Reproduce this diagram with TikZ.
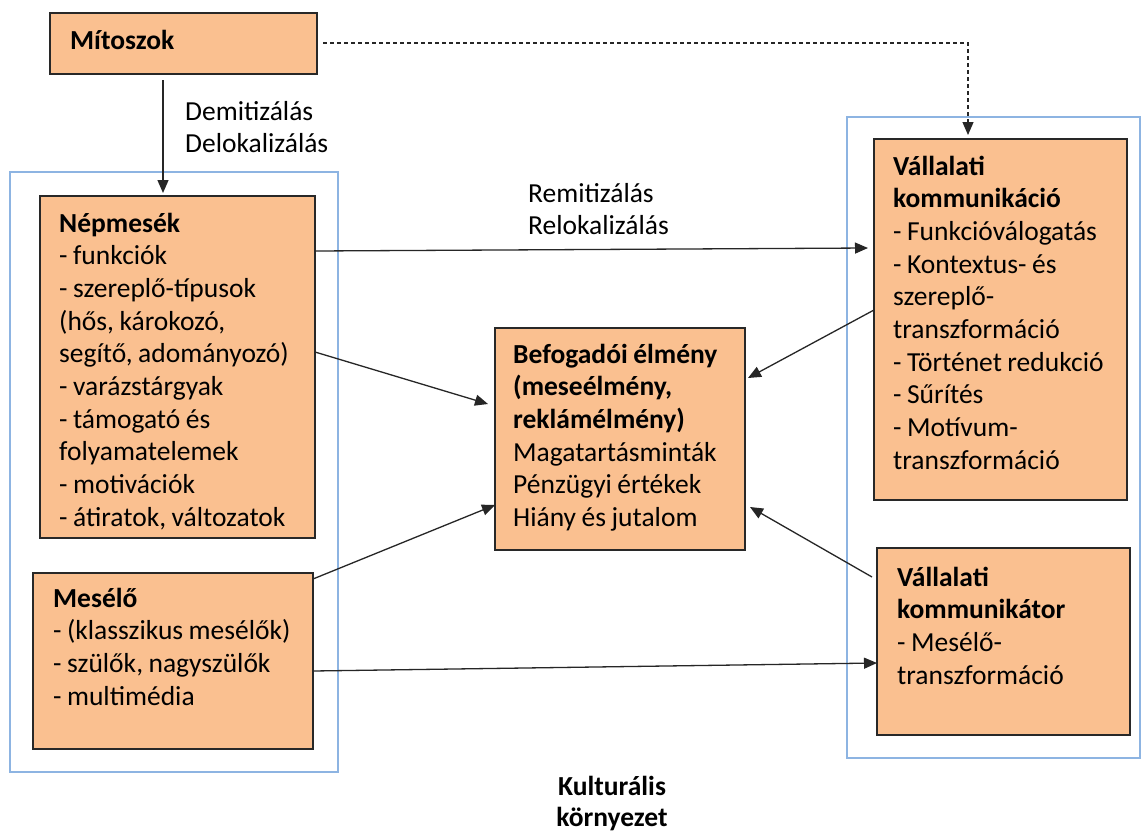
\documentclass[tikz,border=0pt]{standalone}
\usepackage{fontspec}
\setmainfont{Carlito}
\usetikzlibrary{arrows.meta,calc}
\definecolor{peach}{RGB}{250,192,144}
\definecolor{frameblue}{RGB}{141,180,226}
\definecolor{boxline}{RGB}{40,40,40}
\begin{document}
\begin{tikzpicture}[x=1pt,y=-1pt,
  box/.style={draw=boxline, line width=1.8pt, fill=peach, inner sep=0pt, outer sep=0pt, anchor=north west},
  frame/.style={draw=frameblue, line width=2.6pt, inner sep=0pt, outer sep=0pt, anchor=north west},
  txt/.style={anchor=base west, inner sep=0pt, align=left, text width=#1, font=\fontsize{27.5}{32.7}\selectfont,
    execute at begin node={\spaceskip=0.2em plus 0.05em\relax}},
  arr/.style={draw=black!85, line width=1.3pt, -{Triangle[length=13pt,width=11pt]}},
  darr/.style={draw=black!85, line width=1.2pt, dash pattern=on 4pt off 3pt, -{Triangle[length=13pt,width=11pt]}}
]
\fill[white] (0,0) rectangle (1144,833);
\useasboundingbox (0,0) rectangle (1144,833);

% blue frames
\node[frame, minimum width=328pt, minimum height=600pt] (lframe) at (10,172) {};
\node[frame, minimum width=293pt, minimum height=641pt] (rframe) at (847,117) {};

% boxes
\node[box, minimum width=267pt, minimum height=61pt] (mit) at (50,13) {};
\node[box, minimum width=275pt, minimum height=342pt] (nep) at (40,196) {};
\node[box, minimum width=280pt, minimum height=176pt] (mes) at (33,573) {};
\node[box, minimum width=250pt, minimum height=222pt] (bef) at (495,328) {};
\node[box, minimum width=253pt, minimum height=361pt] (vkom) at (874,139) {};
\node[box, minimum width=253pt, minimum height=187pt] (vkor) at (877,548) {};

% texts
\node[txt=240pt] (mitt) at (70,49) {\textbf{Mítoszok}};
\node[txt=260pt] (nept) at (59,232) {\textbf{Népmesék}\\
- funkciók\\
- szereplő-típusok\\
(hős, károkozó,\\
segítő, adományozó)\\
- varázstárgyak\\
- támogató és\\
folyamatelemek\\
- motivációk\\
- átiratok, változatok};
\node[txt=260pt] (mest) at (53,607) {\textbf{Mesélő}\\
- (klasszikus mesélők)\\
- szülők, nagyszülők\\
- multimédia};
\node[txt=230pt] (beft) at (513,363) {\textbf{Befogadói élmény}\\
\textbf{(meseélmény,}\\
\textbf{reklámélmény)}\\
Magatartásminták\\
Pénzügyi értékek\\
Hiány és jutalom};
\node[txt=235pt] (vkomt) at (893,175) {\textbf{Vállalati}\\
\textbf{kommunikáció}\\
- Funkcióválogatás\\
- Kontextus- és\\
szereplő-\\
transzformáció\\
- Történet redukció\\
- Sűrítés\\
- Motívum-\\
transzformáció};
\node[txt=235pt] (vkort) at (897,586) {\textbf{Vállalati}\\
\textbf{kommunikátor}\\
- Mesélő-\\
transzformáció};

% labels
\node[txt=200pt] (demi) at (185,120) {Demitizálás\\Delokalizálás};
\node[txt=200pt] (remi) at (528,202) {Remitizálás\\Relokalizálás};
\node[anchor=base, inner sep=0pt, align=center, text width=220pt, font=\fontsize{27.5}{31}\selectfont] (kult) at (612,795) {\textbf{Kulturális}\\\textbf{környezet}};

% connectors
\draw[arr] ($(mit.south west)+(113,6)$) -- ($(nep.north west)+(123,-3)$);
\draw[darr] ($(mit.north east)+(6,30)$) -| ($(vkom.north west)+(94,-4)$);
\draw[arr] ($(nep.north east)+(0,55)$) -- ($(vkom.north west)+(-6,109)$);
\draw[arr] ($(nep.north east)+(0,156)$) -- ($(bef.north west)+(-7,76)$);
\draw[arr] ($(mes.north east)+(0,6)$) -- ($(bef.north west)+(0,177)$);
\draw[arr] ($(vkom.north west)+(0,171)$) -- ($(bef.north east)+(3,50)$);
\draw[arr] ($(vkor.north west)+(-5,29)$) -- ($(bef.north east)+(5,179)$);
\draw[arr] ($(mes.north east)+(0,98)$) -- ($(vkor.north west)+(0,115)$);
\end{tikzpicture}
\end{document}
